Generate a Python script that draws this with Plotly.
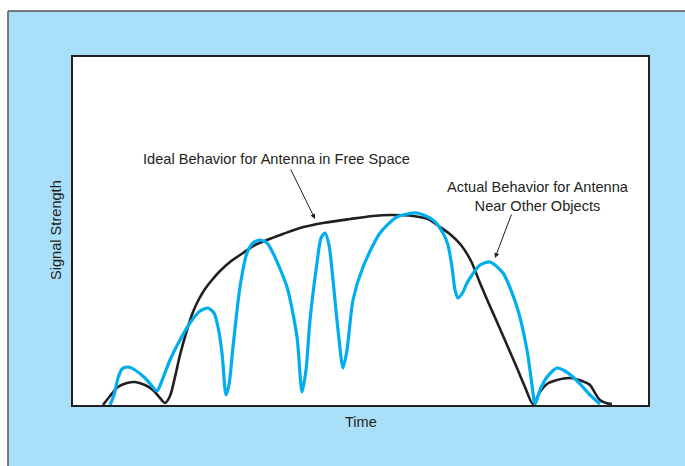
import plotly.graph_objects as go

# Ideal behaviour (black)
ideal_t = [30, 37, 45, 54, 62, 72, 80, 87, 92, 97, 102, 107, 114, 120, 126, 132, 139, 147, 157, 170,
           182, 194, 210, 227, 250, 277, 300, 317, 340, 355, 367, 378, 388, 398, 407, 416, 424,
           434, 444, 452, 460, 467, 474, 484, 497, 509, 517, 522, 527, 533, 539]
ideal_s = [0, 9, 18, 22, 23, 20, 15, 7, 2, 9, 28, 50, 75, 93, 106, 116, 125, 134, 143, 152,
           160, 165, 171, 177, 182, 186, 189, 190, 189, 186, 178, 170, 160, 144, 122, 101, 83,
           60, 37, 18, 1, 13, 21, 25, 27, 24, 20, 12, 5, 2, 1]

# Actual behaviour (cyan)
actual_t = [37, 41, 45, 49, 55, 62, 72, 79, 84, 90, 97, 107, 117, 127, 135, 141, 145, 149, 153,
            156, 160, 167, 174, 180, 187, 194, 200, 214, 224, 229, 233, 237, 244, 248, 252, 256,
            259, 265, 270, 274, 280, 290, 307, 324, 344, 360, 370, 375, 379, 382, 385, 390, 394,
            407, 417, 430, 444, 454, 459, 462, 467, 474, 484, 492, 500, 509, 517, 527]
actual_s = [0, 10, 27, 36, 38, 35, 27, 19, 14, 27, 45, 65, 82, 94, 97, 92, 78, 52, 10,
            20, 58, 118, 152, 162, 165, 162, 152, 118, 68, 13, 35, 85, 142, 167, 172, 160,
            135, 75, 37, 55, 105, 138, 172, 188, 192, 185, 172, 160, 138, 115, 107, 113, 122,
            140, 143, 132, 98, 55, 20, 1, 15, 28, 37, 34, 28, 19, 10, 1]

TXT = "#231f20"
FONT = "Liberation Sans, Arial, Helvetica, sans-serif"
FS = 14.6

fig = go.Figure()
fig.add_trace(go.Scatter(x=ideal_t, y=ideal_s, mode="lines",
                         line=dict(color="#231f20", width=2.6, shape="spline", smoothing=0.8),
                         hoverinfo="skip"))
fig.add_trace(go.Scatter(x=actual_t, y=actual_s, mode="lines",
                         line=dict(color="#00aeef", width=3.2, shape="spline", smoothing=0.7),
                         hoverinfo="skip"))

# outer panel: white strips on top/left and gray border
top_y = 394 / 348
left_x = -65 / 575
shapes = [
    dict(type="rect", xref="paper", yref="paper", x0=-0.2, x1=1.2, y0=top_y, y1=1.3,
         fillcolor="white", line=dict(width=0), layer="below"),
    dict(type="rect", xref="paper", yref="paper", x0=-0.2, x1=left_x, y0=-0.3, y1=1.3,
         fillcolor="white", line=dict(width=0), layer="below"),
    dict(type="line", xref="paper", yref="paper", x0=left_x, x1=left_x,
         y0=-0.3, y1=top_y, line=dict(color="#555555", width=1.5)),
    dict(type="line", xref="paper", yref="paper", x0=left_x, x1=1.2,
         y0=top_y, y1=top_y, line=dict(color="#555555", width=1.5)),
]

annotations = [
    dict(x=203, y=246, xref="x", yref="y", text="Ideal Behavior for Antenna in Free Space",
         showarrow=False, font=dict(size=FS, color=TXT, family=FONT)),
    dict(x=242, y=186, ax=217, ay=237, xref="x", yref="y", axref="x", ayref="y", text="",
         showarrow=True, arrowhead=2, arrowsize=1, arrowwidth=1, arrowcolor=TXT),
    dict(x=465, y=209, xref="x", yref="y", text="Actual Behavior for Antenna<br>Near Other Objects",
         showarrow=False, font=dict(size=FS, color=TXT, family=FONT)),
    dict(x=422, y=147, ax=439, ay=192, xref="x", yref="y", axref="x", ayref="y", text="",
         showarrow=True, arrowhead=2, arrowsize=1, arrowwidth=1, arrowcolor=TXT),
    dict(x=-27 / 575, y=175 / 348, xref="paper", yref="paper", text="Signal Strength",
         textangle=-90, showarrow=False, font=dict(size=FS, color=TXT, family=FONT)),
    dict(x=288 / 575, y=-27 / 348, xref="paper", yref="paper", text="Time",
         showarrow=False, font=dict(size=FS, color=TXT, family=FONT)),
]

fig.update_layout(
    width=685, height=466,
    margin=dict(l=73, r=37, t=57, b=61),
    paper_bgcolor="#aadff9", plot_bgcolor="white",
    showlegend=False,
    shapes=shapes, annotations=annotations,
    xaxis=dict(range=[0, 575], showgrid=False, zeroline=False, showticklabels=False, ticks="",
               showline=True, mirror=True, linecolor="#231f20", linewidth=2),
    yaxis=dict(range=[0, 348], showgrid=False, zeroline=False, showticklabels=False, ticks="",
               showline=True, mirror=True, linecolor="#231f20", linewidth=2),
)

fig.write_html("out.html", config={"displayModeBar": False, "staticPlot": True},
               post_script="document.body.style.margin='0';document.body.style.overflow='hidden';")
